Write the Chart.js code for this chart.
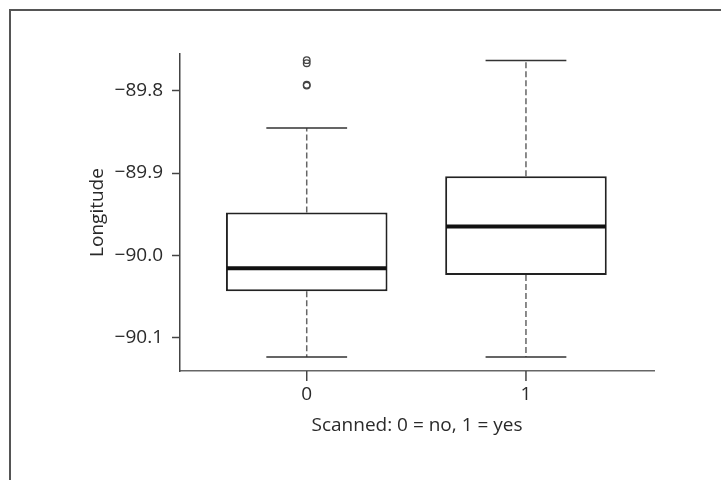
<!DOCTYPE html>
<html>
<head>
<meta charset="utf-8">
<title>Longitude by scan status</title>
<script src="https://cdn.jsdelivr.net/npm/chart.js@4.4.1/dist/chart.umd.min.js"></script>
<style>
    html, body { margin: 0; padding: 0; background: #fff; }
    #wrap { position: relative; width: 721px; height: 480px; }
    #boxChart { display: block; }
    #frame {
        position: absolute; left: 9px; top: 9px; right: 0; bottom: 0;
        border-top: 2px solid #555; border-left: 2px solid #555;
        pointer-events: none;
    }
</style>
</head>
<body>
<div id="wrap">
    <canvas id="boxChart" width="721" height="480"></canvas>
    <div id="frame"></div>
</div>
<script>
// Box statistics per group
const categories = [0, 1];
const lowerWhisker = [-90.124, -90.124];
const q1 = [-90.044, -90.024];
const median = [-90.016, -89.965];
const q3 = [-89.948, -89.904];
const upperWhisker = [-89.845, -89.763];
const outliers = [[-89.7625, -89.7662, -89.7925, -89.7935], []];
const yTicks = [-90.1, -90.0, -89.9, -89.8];

const FONT = { family: '"Open Sans", "DejaVu Sans", sans-serif', size: 19 };
const TEXT = '#2a2a2a';
const X_TICK_LEN = 10;

// whiskers, caps, medians and x tick marks drawn against the chart scales
const boxParts = {
    id: 'boxParts',
    beforeDatasetsDraw(chart) {
        const { ctx, scales: { x, y } } = chart;
        const bars = chart.getDatasetMeta(0).data;
        ctx.save();
        categories.forEach((c, i) => {
            const px = x.getPixelForValue(c);
            const half = bars[i].width / 2;

            ctx.strokeStyle = '#666';
            ctx.lineWidth = 1.5;
            ctx.setLineDash([6, 3]);
            ctx.beginPath();
            ctx.moveTo(px, y.getPixelForValue(q3[i]));
            ctx.lineTo(px, y.getPixelForValue(upperWhisker[i]));
            ctx.moveTo(px, y.getPixelForValue(q1[i]));
            ctx.lineTo(px, y.getPixelForValue(lowerWhisker[i]));
            ctx.stroke();

            ctx.setLineDash([]);
            ctx.strokeStyle = '#333';
            ctx.beginPath();
            ctx.moveTo(px - half / 2, y.getPixelForValue(upperWhisker[i]));
            ctx.lineTo(px + half / 2, y.getPixelForValue(upperWhisker[i]));
            ctx.moveTo(px - half / 2, y.getPixelForValue(lowerWhisker[i]));
            ctx.lineTo(px + half / 2, y.getPixelForValue(lowerWhisker[i]));
            ctx.stroke();
        });
        ctx.restore();
    },
    afterDatasetsDraw(chart) {
        const { ctx, scales: { x, y } } = chart;
        const bars = chart.getDatasetMeta(0).data;
        ctx.save();
        ctx.strokeStyle = '#111';
        ctx.lineWidth = 4;
        categories.forEach((c, i) => {
            const px = x.getPixelForValue(c);
            const half = bars[i].width / 2;
            const py = y.getPixelForValue(median[i]);
            ctx.beginPath();
            ctx.moveTo(px - half + 1, py);
            ctx.lineTo(px + half - 1, py);
            ctx.stroke();
        });
        ctx.restore();
    },
    afterDraw(chart) {
        // tick mark under each category
        const { ctx, chartArea, scales: { x } } = chart;
        ctx.save();
        ctx.setLineDash([]);
        ctx.strokeStyle = '#444';
        ctx.lineWidth = 1.5;
        categories.forEach(c => {
            const px = x.getPixelForValue(c);
            ctx.beginPath();
            ctx.moveTo(px, chartArea.bottom);
            ctx.lineTo(px, chartArea.bottom + X_TICK_LEN);
            ctx.stroke();
        });
        ctx.restore();
    }
};

const boxData = categories.map((c, i) => ({ x: c, y: [q1[i], q3[i]] }));
const outlierData = [];
categories.forEach((c, i) => outliers[i].forEach(v => outlierData.push({ x: c, y: v })));

window.onload = function() {
    const ctx = document.getElementById('boxChart').getContext('2d');
    new Chart(ctx, {
        type: 'bar',
        data: {
            datasets: [{
                type: 'bar',
                data: boxData,
                backgroundColor: '#fff',
                borderColor: '#222',
                borderWidth: 2,
                borderSkipped: false,
                categoryPercentage: 1,
                barPercentage: 0.737
            }, {
                type: 'scatter',
                data: outlierData,
                pointStyle: 'circle',
                pointRadius: 3.3,
                backgroundColor: 'rgba(255,255,255,0)',
                borderColor: '#444',
                borderWidth: 1.3
            }]
        },
        options: {
            responsive: false,
            devicePixelRatio: 1,
            animation: false,
            layout: { padding: { top: 54, right: 67, left: 0, bottom: 0 } },
            plugins: { legend: { display: false }, tooltip: { enabled: false } },
            scales: {
                x: {
                    type: 'linear',
                    min: -0.578,
                    max: 1.584,
                    offset: false,
                    afterBuildTicks: s => { s.ticks = categories.map(v => ({ value: v })); },
                    afterFit: s => { s.height = 109; },
                    grid: { display: false },
                    border: { display: true, color: '#666', width: 1.5 },
                    ticks: { font: FONT, color: TEXT, padding: 4, callback: v => String(v) },
                    title: {
                        display: true,
                        text: 'Scanned: 0 = no, 1 = yes',
                        font: FONT,
                        color: TEXT,
                        padding: { top: 0, bottom: 43 }
                    }
                },
                y: {
                    min: -90.141,
                    max: -89.755,
                    afterBuildTicks: s => { s.ticks = yTicks.map(v => ({ value: v })); },
                    afterFit: s => { s.width = 180; },
                    grid: { drawOnChartArea: false, tickLength: 8, tickColor: '#444', tickWidth: 1.5 },
                    border: { display: true, color: '#444', width: 1.5 },
                    ticks: {
                        font: FONT,
                        color: TEXT,
                        padding: 9,
                        callback: v => v.toFixed(1).replace('-', '\u2212')
                    },
                    title: {
                        display: true,
                        text: 'Longitude',
                        font: FONT,
                        color: TEXT,
                        padding: { top: 86, bottom: 0 }
                    }
                }
            }
        },
        plugins: [boxParts]
    });
};
</script>
</body>
</html>
